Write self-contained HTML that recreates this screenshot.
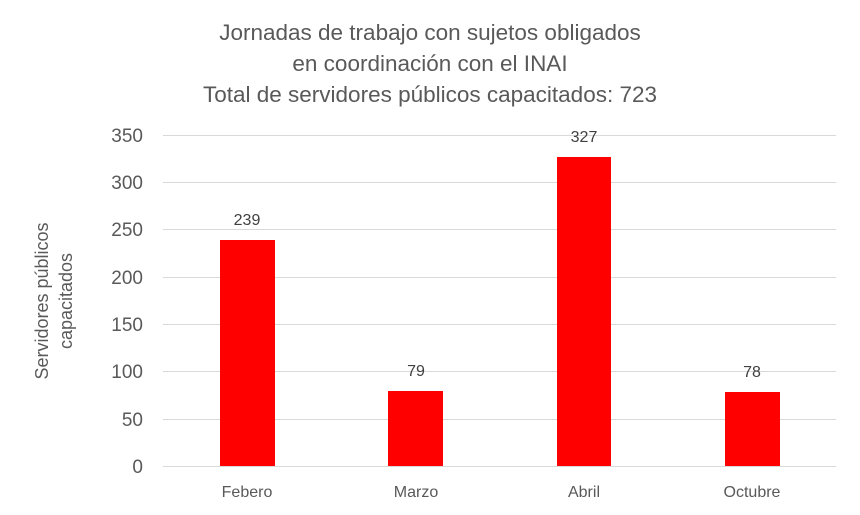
<!DOCTYPE html>
<html><head><meta charset="utf-8"><style>
body{margin:0;background:#fff;}
svg{display:block;font-family:"Liberation Sans",sans-serif;}
</style></head><body>
<svg width="860" height="515" xmlns="http://www.w3.org/2000/svg">
<rect width="860" height="515" fill="#fff"/>
<g fill="#595959" font-size="22.5" text-anchor="middle">
<text x="430" y="40">Jornadas de trabajo con sujetos obligados</text>
<text x="430" y="71">en coordinación con el INAI</text>
<text x="430" y="102">Total de servidores públicos capacitados: 723</text>
</g>
<g stroke="#d9d9d9" stroke-width="1">
<line x1="163" x2="836" y1="135.5" y2="135.5"/>
<line x1="163" x2="836" y1="182.5" y2="182.5"/>
<line x1="163" x2="836" y1="229.5" y2="229.5"/>
<line x1="163" x2="836" y1="277.5" y2="277.5"/>
<line x1="163" x2="836" y1="324.5" y2="324.5"/>
<line x1="163" x2="836" y1="371.5" y2="371.5"/>
<line x1="163" x2="836" y1="419.5" y2="419.5"/>
<line x1="163" x2="836" y1="466.5" y2="466.5"/>
</g>
<g fill="#595959" font-size="19" text-anchor="end">
<text x="143" y="142">350</text>
<text x="143" y="189">300</text>
<text x="143" y="236">250</text>
<text x="143" y="284">200</text>
<text x="143" y="331">150</text>
<text x="143" y="378">100</text>
<text x="143" y="426">50</text>
<text x="143" y="473">0</text>
</g>
<g fill="#ff0000">
<rect x="220" y="240" width="55" height="226"/>
<rect x="388" y="391" width="55" height="75"/>
<rect x="557" y="157" width="54" height="309"/>
<rect x="725" y="392" width="55" height="74"/>
</g>
<g fill="#404040" font-size="16" text-anchor="middle">
<text x="247" y="225">239</text>
<text x="416" y="376">79</text>
<text x="584" y="142">327</text>
<text x="752" y="377">78</text>
</g>
<g fill="#595959" font-size="16" text-anchor="middle">
<text x="247" y="497">Febero</text>
<text x="416" y="497">Marzo</text>
<text x="584" y="497">Abril</text>
<text x="752" y="497">Octubre</text>
</g>
<g fill="#595959" font-size="18" text-anchor="middle">
<text transform="translate(48,301) rotate(-90)">Servidores públicos</text>
<text transform="translate(72,301) rotate(-90)">capacitados</text>
</g>
</svg>
</body></html>
